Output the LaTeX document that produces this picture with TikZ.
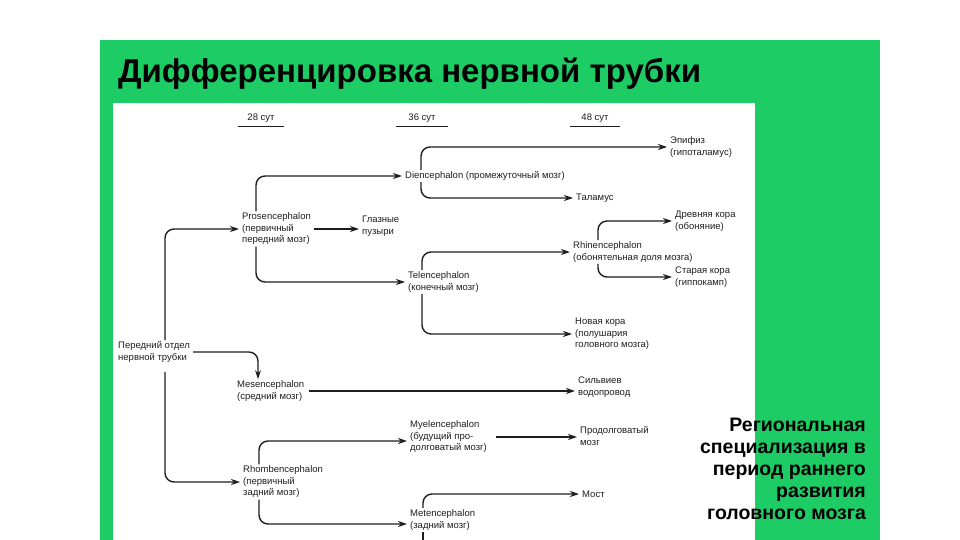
\documentclass[tikz,border=0pt]{standalone}
\usepackage{fontspec}
\setmainfont{Liberation Sans}
\usetikzlibrary{arrows.meta}
\definecolor{slidegreen}{RGB}{30,204,102}
\definecolor{ink}{RGB}{30,30,30}
\begin{document}
\begin{tikzpicture}[x=1pt,y=-1pt,
  lbl/.style={anchor=west, align=left, inner xsep=3pt, inner ysep=1.5pt, font=\fontsize{9.5}{11.5}\selectfont, text=ink},
  hdr/.style={anchor=center, inner sep=1pt, minimum height=16pt, font=\fontsize{9.5}{11.5}\selectfont, text=ink},
  arr/.style={draw=ink, line width=1.4pt, -{Stealth[length=9pt,width=6pt]}, rounded corners=9pt},
  plain/.style={draw=ink, line width=1.4pt},
]
\useasboundingbox (0,0) rectangle (960,540);
\fill[white] (0,0) rectangle (960,540);
\fill[slidegreen] (100,40) rectangle (880,540);
\fill[white] (113,103) rectangle (755,540);

\node[anchor=base west, inner sep=0, font=\fontsize{33}{33}\selectfont\bfseries] (title) at (118,83) {Дифференцировка нервной трубки};

\node[hdr, minimum width=46pt] (h28) at (261,118) {28 сут};
\node[hdr, minimum width=52pt] (h36) at (422,118) {36 сут};
\node[hdr, minimum width=50pt] (h48) at (595,118) {48 сут};
\draw[plain, line width=1pt] (h28.south west) -- (h28.south east);
\draw[plain, line width=1pt] (h36.south west) -- (h36.south east);
\draw[plain, line width=1pt] (h48.south west) -- (h48.south east);

\node[lbl] (pros) at (239,229) {Prosencephalon\\(первичный\\передний мозг)};
\node[lbl] (glaz) at (359,226) {Глазные\\пузыри};
\node[lbl] (dien) at (402,176) {Diencephalon (промежуточный мозг)};
\node[lbl] (epif) at (667,147) {Эпифиз\\(гипоталамус)};
\node[lbl] (tal) at (573,198) {Таламус};
\node[lbl] (tel) at (405,282) {Telencephalon\\(конечный мозг)};
\node[lbl] (rhin) at (570,252) {Rhinencephalon\\(обонятельная доля мозга)};
\node[lbl] (drev) at (672,221) {Древняя кора\\(обоняние)};
\node[lbl] (star) at (672,277) {Старая кора\\(гиппокамп)};
\node[lbl] (nov) at (572,334) {Новая кора\\(полушария\\головного мозга)};
\node[lbl] (ped) at (115,352) {Передний отдел\\нервной трубки};
\node[lbl] (mes) at (234,391) {Mesencephalon\\(средний мозг)};
\node[lbl] (silv) at (575,387) {Сильвиев\\водопровод};
\node[lbl] (rhomb) at (240,482) {Rhombencephalon\\(первичный\\задний мозг)};
\node[lbl] (myel) at (407,437) {Myelencephalon\\(будущий про-\\долговатый мозг)};
\node[lbl] (prod) at (577,436) {Продолговатый\\мозг};
\node[lbl] (met) at (407,520) {Metencephalon\\(задний мозг)};
\node[lbl] (most) at (579,494) {Мост};
\coordinate (metcut) at (423,540);

\draw[arr] ([xshift=17pt]pros.north west) |- (dien.west);
\draw[arr] ([xshift=17pt]pros.south west) |- (tel.west);
\draw[arr] (pros.east) -- (pros.east -| glaz.west);
\draw[arr] ([xshift=19pt]dien.north west) |- (epif.west);
\draw[arr] ([xshift=19pt]dien.south west) |- (tal.west);
\draw[arr] ([xshift=17pt]tel.north west) |- (rhin.west);
\draw[arr] ([xshift=17pt]tel.south west) |- (nov.west);
\draw[arr] ([xshift=28pt]rhin.north west) |- (drev.west);
\draw[arr] ([xshift=28pt]rhin.south west) |- (star.west);
\draw[arr] ([xshift=50pt]ped.north west) |- (pros.west);
\draw[arr] ([xshift=50pt,yshift=-8pt]ped.south west) |- (rhomb.west);
\draw[arr] (ped.east) -| ([xshift=24pt]mes.north west);
\draw[arr, shorten <=2pt] (mes.east) -- (mes.east -| silv.west);
\draw[arr] ([xshift=19pt]rhomb.north west) |- ([yshift=-4pt]myel.west);
\draw[arr] ([xshift=19pt]rhomb.south west) |- ([yshift=-4pt]met.west);
\draw[arr, shorten <=6pt] (myel.east) -- (myel.east -| prod.west);
\draw[arr] ([xshift=16pt]met.north west) |- (most.west);
\draw[plain] ([xshift=16pt]met.south west) -- (metcut);

\node[anchor=north east, align=right, inner sep=0, font=\fontsize{19.5}{22}\selectfont\bfseries] (reg) at (866,418) {Региональная\\специализация в\\период раннего\\развития\\головного мозга};
\end{tikzpicture}
\end{document}
